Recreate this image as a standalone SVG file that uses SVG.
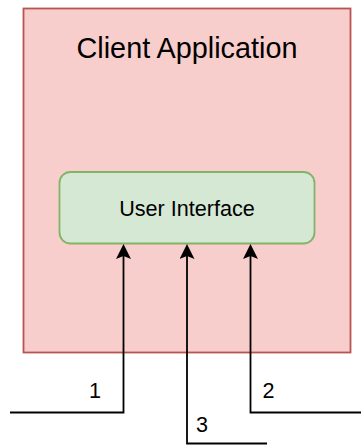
<svg xmlns="http://www.w3.org/2000/svg" width="361" height="446" viewBox="0 0 361 446">
  <style>
    .container { fill: #f8cecc; stroke: #b85450; stroke-width: 1.8; }
    .component { fill: #d5e8d4; stroke: #82b366; stroke-width: 1.8; }
    .title { font-family: "Liberation Sans", Arial, sans-serif; font-size: 28.8px; fill: #000; text-anchor: middle; }
    .label { font-family: "Liberation Sans", Arial, sans-serif; font-size: 21.6px; fill: #000; text-anchor: middle; }
    .edge { fill: none; stroke: #000; stroke-width: 1.8; }
  </style>
  <defs>
    <marker id="arrow" viewBox="0 0 15 15" markerWidth="15" markerHeight="15" refX="3" refY="7.5" orient="auto" markerUnits="userSpaceOnUse">
      <path d="M0,0 L15,7.5 L0,15 L3,7.5 Z" fill="#000"/>
    </marker>
  </defs>
  <rect width="361" height="446" fill="#fff"/>

  <g id="client-application">
    <rect class="container" x="23.5" y="8.5" width="327" height="344"/>
    <text class="title" x="187" y="58">Client Application</text>
  </g>

  <g id="user-interface">
    <rect class="component" x="59.5" y="172" width="255" height="71.5" rx="11" ry="11"/>
    <text class="label" x="187" y="216">User Interface</text>
  </g>

  <g id="connectors">
    <path class="edge" d="M10,412.5 H123.5 V256" marker-end="url(#arrow)"/>
    <path class="edge" d="M361,412.5 H250.5 V256" marker-end="url(#arrow)"/>
    <path class="edge" d="M267,443.5 H187 V256" marker-end="url(#arrow)"/>
    <text class="label" x="95" y="398">1</text>
    <text class="label" x="268.5" y="397.5">2</text>
    <text class="label" x="202" y="432">3</text>
  </g>
</svg>
